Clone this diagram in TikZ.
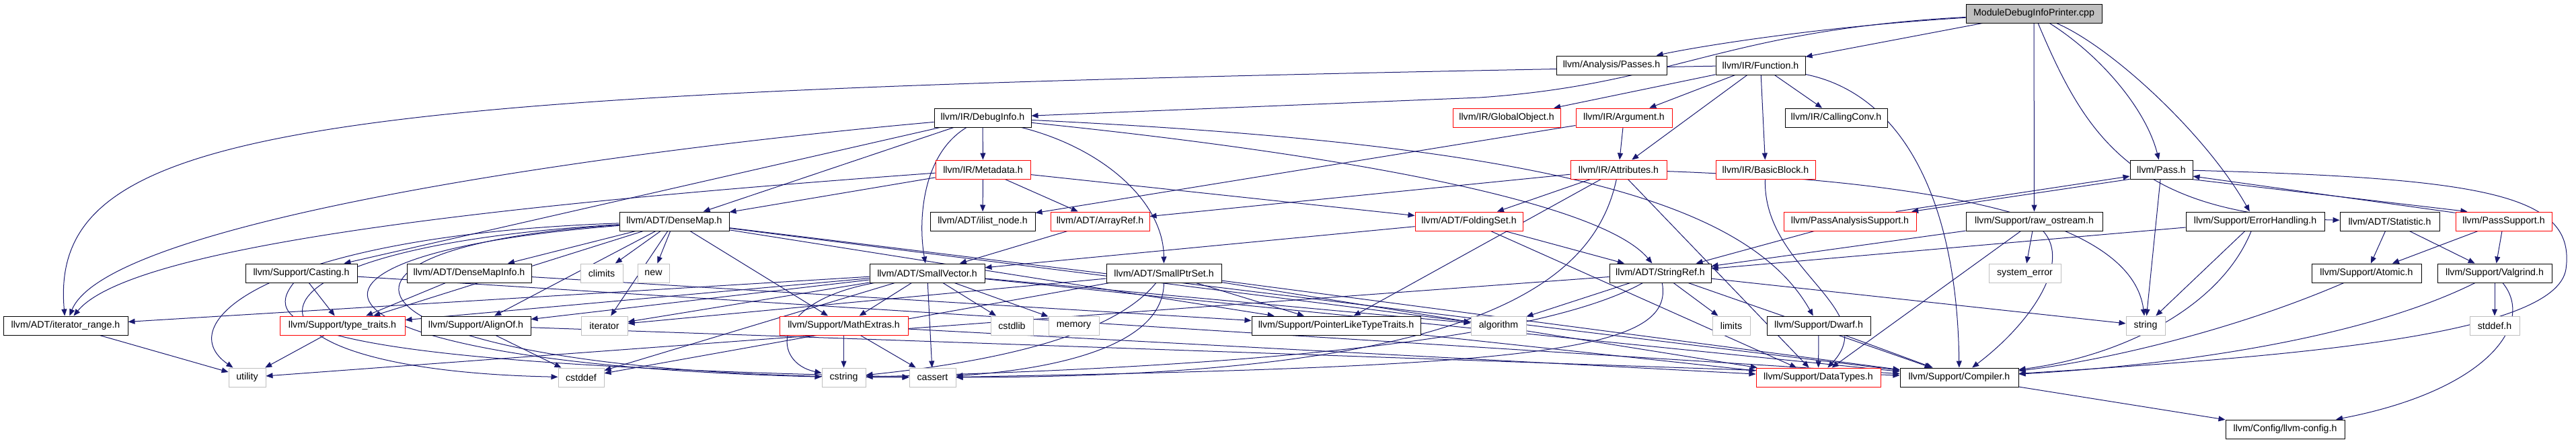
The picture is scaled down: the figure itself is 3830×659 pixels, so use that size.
\documentclass[tikz,border=0pt]{standalone}
\usepackage{fontspec}
\setmainfont{Liberation Sans}
\usetikzlibrary{arrows.meta,backgrounds}
\definecolor{edgeblue}{RGB}{25,25,112}
\definecolor{grey75}{RGB}{191,191,191}
\begin{document}
\begin{tikzpicture}[
  x=1pt, y=-1pt,
  font=\fontsize{14.2}{16}\selectfont,
  >={Triangle[length=10pt,width=8pt]},
  hdr/.style={draw=black, fill=white, line width=1pt, inner sep=0pt, minimum height=28pt},
  trunc/.style={hdr, draw=red},
  sys/.style={hdr, draw=grey75},
  rootfile/.style={hdr, fill=grey75},
  dep/.style={->, draw=edgeblue, line width=1pt},
]
\useasboundingbox (0,0) rectangle (3830,659);
\node[rootfile, minimum width=202] (root) at (3024,20) {ModuleDebugInfoPrinter.cpp};
\node[hdr, minimum width=164] (passes) at (2396,97) {llvm/Analysis/Passes.h};
\node[hdr, minimum width=133] (function) at (2617.5,97) {llvm/IR/Function.h};
\node[hdr, minimum width=144] (debuginfo) at (1461,175) {llvm/IR/DebugInfo.h};
\node[trunc, minimum width=160] (globalobject) at (2240,175) {llvm/IR/GlobalObject.h};
\node[trunc, minimum width=143] (argument) at (2414.5,175) {llvm/IR/Argument.h};
\node[hdr, minimum width=152] (callingconv) at (2730,175) {llvm/IR/CallingConv.h};
\node[trunc, minimum width=141] (metadata) at (1461.5,252) {llvm/IR/Metadata.h};
\node[trunc, minimum width=143] (attributes) at (2406.5,252) {llvm/IR/Attributes.h};
\node[trunc, minimum width=148] (basicblock) at (2625,252) {llvm/IR/BasicBlock.h};
\node[hdr, minimum width=93] (pass) at (3213.5,252) {llvm/Pass.h};
\node[hdr, minimum width=163] (densemap) at (1002.5,329) {llvm/ADT/DenseMap.h};
\node[hdr, minimum width=156] (ilistnode) at (1461,329) {llvm/ADT/ilist\_node.h};
\node[trunc, minimum width=147] (arrayref) at (1635.5,329) {llvm/ADT/ArrayRef.h};
\node[trunc, minimum width=160] (foldingset) at (2184,329) {llvm/ADT/FoldingSet.h};
\node[trunc, minimum width=197] (passanalysis) at (2750.5,329) {llvm/PassAnalysisSupport.h};
\node[hdr, minimum width=203] (rawostream) at (3024.5,329) {llvm/Support/raw\_ostream.h};
\node[hdr, minimum width=206] (errorhandling) at (3353,329) {llvm/Support/ErrorHandling.h};
\node[hdr, minimum width=148] (statistic) at (3553,329) {llvm/ADT/Statistic.h};
\node[trunc, minimum width=143] (passsupport) at (3722.5,329) {llvm/PassSupport.h};
\node[hdr, minimum width=166] (casting) at (448,406) {llvm/Support/Casting.h};
\node[hdr, minimum width=185] (densemapinfo) at (697.5,406) {llvm/ADT/DenseMapInfo.h};
\node[sys, minimum width=63] (climits) at (894.5,406) {climits};
\node[sys, minimum width=47] (new) at (971.5,406) {new};
\node[hdr, minimum width=171] (smallvector) at (1378.5,406) {llvm/ADT/SmallVector.h};
\node[hdr, minimum width=171] (smallptrset) at (1730.5,406) {llvm/ADT/SmallPtrSet.h};
\node[hdr, minimum width=151] (stringref) at (2468.5,406) {llvm/ADT/StringRef.h};
\node[sys, minimum width=107] (systemerror) at (3010.5,406) {system\_error};
\node[hdr, minimum width=163] (atomic) at (3518.5,406) {llvm/Support/Atomic.h};
\node[hdr, minimum width=170] (valgrind) at (3709,406) {llvm/Support/Valgrind.h};
\node[hdr, minimum width=185] (iteratorrange) at (97.5,484) {llvm/ADT/iterator\_range.h};
\node[trunc, minimum width=186] (typetraits) at (509,484) {llvm/Support/type\_traits.h};
\node[hdr, minimum width=163] (alignof) at (707.5,484) {llvm/Support/AlignOf.h};
\node[sys, minimum width=69] (iterator) at (898.5,484) {iterator};
\node[trunc, minimum width=191] (mathextras) at (1254.5,484) {llvm/Support/MathExtras.h};
\node[sys, minimum width=63] (cstdlib) at (1504.5,484) {cstdlib};
\node[sys, minimum width=75] (memory) at (1596.5,484) {memory};
\node[hdr, minimum width=251] (pointerlike) at (1986.5,484) {llvm/Support/PointerLikeTypeTraits.h};
\node[sys, minimum width=82] (algorithm) at (2228,484) {algorithm};
\node[sys, minimum width=56] (limits) at (2574,484) {limits};
\node[hdr, minimum width=154] (dwarf) at (2704,484) {llvm/Support/Dwarf.h};
\node[sys, minimum width=58] (string) at (3190,484) {string};
\node[sys, minimum width=74] (stddef) at (3709,484) {stddef.h};
\node[sys, minimum width=55] (utility) at (367.5,561) {utility};
\node[sys, minimum width=68] (cstddef) at (864,561) {cstddef};
\node[sys, minimum width=65] (cstring) at (1254.5,561) {cstring};
\node[sys, minimum width=69] (cassert) at (1386.5,561) {cassert};
\node[trunc, minimum width=185] (datatypes) at (2703.5,561) {llvm/Support/DataTypes.h};
\node[hdr, minimum width=176] (compiler) at (2913,561) {llvm/Support/Compiler.h};
\node[hdr, minimum width=177] (llvmconfig) at (3397.5,638) {llvm/Config/llvm-config.h};
\begin{scope}[on background layer]
\draw[dep] (root) .. controls (2700,40) and (2520,70) .. (passes);
\draw[dep] (root) -- (function);
\draw[dep] (root) .. controls (2560,45) and (2490,125) .. (2200,145) -- (debuginfo);
\draw[dep] (root) -- (rawostream);
\draw[dep] (root) .. controls (3120,80) and (3190,160) .. (pass);
\draw[dep] (root) .. controls (3140,70) and (3280,200) .. (errorhandling);
\draw[dep] (root) .. controls (3100,200) and (3170,320) .. (statistic);
\draw[dep] (function) -- (globalobject);
\draw[dep] (function) -- (argument);
\draw[dep] (function) -- (attributes);
\draw[dep] (function) -- (basicblock);
\draw[dep] (function) -- (callingconv);
\draw[dep] (function) .. controls (500,135) and (70,170) .. (iteratorrange);
\draw[dep] (function) .. controls (2830,140) and (2910,300) .. (compiler);
\draw[dep] (debuginfo) -- (metadata);
\draw[dep] (debuginfo) -- (densemap);
\draw[dep] (debuginfo) -- (casting);
\draw[dep] (debuginfo) .. controls (900,225) and (160,330) .. (iteratorrange);
\draw[dep] (debuginfo) .. controls (1370,230) and (1365,330) .. (smallvector);
\draw[dep] (debuginfo) .. controls (1640,220) and (1730,300) .. (smallptrset);
\draw[dep] (debuginfo) .. controls (2300,215) and (2600,300) .. (dwarf);
\draw[dep] (debuginfo) .. controls (2000,230) and (2380,300) .. (stringref);
\draw[dep] (metadata) -- (ilistnode);
\draw[dep] (metadata) -- (arrayref);
\draw[dep] (metadata) -- (densemap);
\draw[dep] (metadata) .. controls (800,300) and (200,360) .. (iteratorrange);
\draw[dep] (metadata) -- (foldingset);
\draw[dep] (argument) -- (attributes);
\draw[dep] (argument) -- (ilistnode);
\draw[dep] (attributes) -- (foldingset);
\draw[dep] (attributes) -- (arrayref);
\draw[dep] (attributes) -- (pointerlike);
\draw[dep] (attributes) .. controls (2370,420) and (2200,560) .. (cassert);
\draw[dep] (attributes) -- (datatypes);
\draw[dep] (attributes) .. controls (2900,270) and (3170,330) .. (string);
\draw[dep] (basicblock) .. controls (2620,400) and (2800,460) .. (datatypes);
\draw[dep] (passanalysis.12) -- (pass.192);
\draw[dep] (pass.197) -- (passanalysis.9);
\draw[dep] (passsupport.170) -- (pass.-12);
\draw[dep] (pass.-18) -- (passsupport.165);
\draw[dep] (pass) -- (string);
\draw[dep] (pass) .. controls (3700,265) and (3830,290) .. (3815,400) .. controls (3800,500) and (3400,530) .. (compiler);
\draw[dep] (passanalysis) -- (stringref);
\draw[dep] (rawostream) -- (stringref);
\draw[dep] (rawostream) -- (systemerror);
\draw[dep] (rawostream) -- (datatypes);
\draw[dep] (rawostream) .. controls (3080,390) and (3020,480) .. (compiler);
\draw[dep] (errorhandling) -- (stringref);
\draw[dep] (errorhandling) -- (string);
\draw[dep] (errorhandling) .. controls (3300,460) and (3150,530) .. (compiler);
\draw[dep] (statistic) -- (atomic);
\draw[dep] (statistic) -- (valgrind);
\draw[dep] (passsupport) -- (atomic);
\draw[dep] (passsupport) -- (valgrind);
\draw[dep] (atomic) .. controls (3300,500) and (3100,540) .. (compiler);
\draw[dep] (valgrind) -- (stddef);
\draw[dep] (valgrind) .. controls (3500,510) and (3200,545) .. (compiler);
\draw[dep] (valgrind) .. controls (3770,480) and (3700,580) .. (llvmconfig);
\draw[dep] (compiler) -- (llvmconfig);
\draw[dep] (dwarf) -- (datatypes);
\draw[dep] (dwarf) -- (compiler);
\draw[dep] (foldingset) -- (smallvector);
\draw[dep] (foldingset) -- (stringref);
\draw[dep] (foldingset) -- (datatypes);
\draw[dep] (arrayref) -- (smallvector);
\draw[dep] (stringref) -- (algorithm);
\draw[dep] (stringref) -- (limits);
\draw[dep] (stringref) -- (string);
\draw[dep] (stringref) -- (compiler);
\draw[dep] (stringref) .. controls (2300,500) and (1900,545) .. (cstring);
\draw[dep] (stringref) .. controls (2490,520) and (2300,545) .. (cassert);
\draw[dep] (stringref) -- (utility);
\draw[dep] (smallvector) -- (iteratorrange);
\draw[dep] (smallvector) -- (typetraits);
\draw[dep] (smallvector) -- (alignof);
\draw[dep] (smallvector) -- (iterator);
\draw[dep] (smallvector) -- (mathextras);
\draw[dep] (smallvector) -- (cstdlib);
\draw[dep] (smallvector) -- (memory);
\draw[dep] (smallvector) -- (cassert);
\draw[dep] (smallvector) .. controls (1140,450) and (1150,540) .. (cstring);
\draw[dep] (smallvector) -- (cstddef);
\draw[dep] (smallvector) -- (algorithm);
\draw[dep] (smallvector) -- (compiler);
\draw[dep] (smallptrset) -- (pointerlike);
\draw[dep] (smallptrset) -- (datatypes);
\draw[dep] (smallptrset) -- (compiler);
\draw[dep] (smallptrset) .. controls (1677,472) and (1571,528) .. (cstring);
\draw[dep] (smallptrset) .. controls (1730,520) and (1550,550) .. (cassert);
\draw[dep] (smallptrset) -- (iterator);
\draw[dep] (smallptrset) -- (cstddef);
\draw[dep] (densemap) -- (climits);
\draw[dep] (densemap) -- (new);
\draw[dep] (densemap) -- (iterator);
\draw[dep] (densemap) -- (mathextras);
\draw[dep] (densemap) -- (densemapinfo);
\draw[dep] (densemap) -- (alignof);
\draw[dep] (densemap) -- (typetraits);
\draw[dep] (densemap) -- (pointerlike);
\draw[dep] (densemap) -- (algorithm);
\draw[dep] (densemap) -- (compiler);
\draw[dep] (densemap) .. controls (400,350) and (250,480) .. (utility);
\draw[dep] (densemap) .. controls (300,370) and (320,550) .. (cstddef);
\draw[dep] (densemap) .. controls (350,380) and (420,540) .. (cstring);
\draw[dep] (densemap) .. controls (380,370) and (500,560) .. (cassert);
\draw[dep] (densemapinfo) -- (typetraits);
\draw[dep] (densemapinfo) -- (pointerlike);
\draw[dep] (casting) -- (typetraits);
\draw[dep] (casting) .. controls (390,480) and (430,540) .. (cassert);
\draw[dep] (casting) -- (compiler);
\draw[dep] (alignof) -- (cstddef);
\draw[dep] (alignof) -- (compiler);
\draw[dep] (mathextras) -- (cstring);
\draw[dep] (mathextras) -- (cassert);
\draw[dep] (mathextras) -- (datatypes);
\draw[dep] (typetraits) -- (utility);
\draw[dep] (iteratorrange) -- (utility);
\draw[dep] (pointerlike) -- (datatypes);
\end{scope}
\end{tikzpicture}
\end{document}
